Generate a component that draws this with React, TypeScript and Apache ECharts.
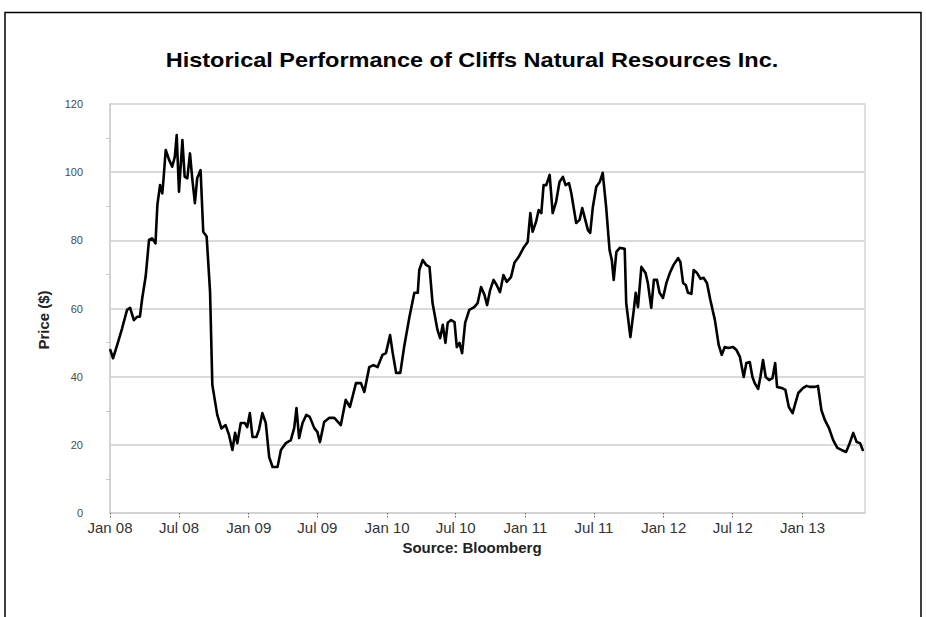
import React, { useEffect, useRef } from "react";
import * as echarts from "echarts";

const dates: string[] = [
  "2008-01-02","2008-01-09","2008-01-20","2008-02-02","2008-02-15","2008-02-23","2008-03-04","2008-03-13","2008-03-20","2008-03-26",
  "2008-04-04","2008-04-13","2008-04-21","2008-04-30","2008-05-05","2008-05-12","2008-05-18","2008-05-21","2008-05-27","2008-06-05",
  "2008-06-13","2008-06-20","2008-06-25","2008-07-01","2008-07-10","2008-07-16","2008-07-23","2008-07-30","2008-08-05","2008-08-12",
  "2008-08-18","2008-08-27","2008-09-03","2008-09-12","2008-09-21","2008-09-27","2008-10-10","2008-10-21","2008-11-01","2008-11-10",
  "2008-11-19","2008-11-26","2008-12-02","2008-12-11","2008-12-22","2008-12-28","2009-01-04","2009-01-11","2009-01-21","2009-01-28",
  "2009-02-06","2009-02-15","2009-02-24","2009-03-05","2009-03-18","2009-03-27","2009-04-09","2009-04-22","2009-05-01","2009-05-07",
  "2009-05-14","2009-05-23","2009-06-02","2009-06-11","2009-06-23","2009-07-01","2009-07-08","2009-07-19","2009-08-01","2009-08-15",
  "2009-09-01","2009-09-14","2009-09-25","2009-10-11","2009-10-24","2009-11-02","2009-11-15","2009-11-26","2009-12-07","2009-12-20",
  "2009-12-29","2010-01-09","2010-01-16","2010-01-25","2010-02-05","2010-02-15","2010-03-01","2010-03-14","2010-03-23","2010-03-27",
  "2010-04-05","2010-04-14","2010-04-23","2010-05-01","2010-05-14","2010-05-21","2010-05-28","2010-06-04","2010-06-10","2010-06-19",
  "2010-06-28","2010-07-04","2010-07-11","2010-07-18","2010-07-26","2010-08-06","2010-08-19","2010-08-28","2010-09-06","2010-09-15",
  "2010-09-22","2010-09-30","2010-10-09","2010-10-17","2010-10-26","2010-11-04","2010-11-13","2010-11-24","2010-12-03","2010-12-14",
  "2010-12-27","2011-01-07","2011-01-14","2011-01-20","2011-01-29","2011-02-05","2011-02-12","2011-02-18","2011-02-25","2011-03-06",
  "2011-03-14","2011-03-23","2011-04-01","2011-04-10","2011-04-17","2011-04-26","2011-05-02","2011-05-15","2011-05-24","2011-05-31",
  "2011-06-06","2011-06-15","2011-06-21","2011-06-28","2011-07-07","2011-07-16","2011-07-24","2011-08-02","2011-08-11","2011-08-17",
  "2011-08-22","2011-08-29","2011-09-07","2011-09-20","2011-09-24","2011-10-05","2011-10-14","2011-10-19","2011-10-25","2011-11-03",
  "2011-11-14","2011-11-20","2011-11-29","2011-12-06","2011-12-14","2011-12-21","2011-12-30","2012-01-08","2012-01-17","2012-01-27",
  "2012-02-08","2012-02-14","2012-02-21","2012-02-28","2012-03-05","2012-03-14","2012-03-20","2012-03-29","2012-04-07","2012-04-15",
  "2012-04-24","2012-05-03","2012-05-15","2012-05-25","2012-06-02","2012-06-10","2012-06-19","2012-07-02","2012-07-11","2012-07-20",
  "2012-07-30","2012-08-06","2012-08-15","2012-08-22","2012-08-28","2012-09-06","2012-09-12","2012-09-19","2012-09-26","2012-10-05",
  "2012-10-14","2012-10-21","2012-10-26","2012-11-07","2012-11-17","2012-11-26","2012-12-06","2012-12-12","2012-12-21","2013-01-03",
  "2013-01-12","2013-01-20","2013-02-03","2013-02-11","2013-02-20","2013-03-01","2013-03-12","2013-03-23","2013-04-03","2013-04-14",
  "2013-04-26","2013-05-04","2013-05-15","2013-05-24","2013-06-02","2013-06-09"
];

const prices: number[] = [
  47.8,45.4,49.3,54.2,59.6,60.2,56.6,57.6,57.6,63.0,
  69.3,80.1,80.6,79.1,90.4,96.2,93.8,97.7,106.5,103.6,
  101.6,104.5,110.9,94.3,109.4,98.7,98.2,105.5,98.2,90.9,
  98.2,100.6,82.5,81.1,64.9,37.6,28.8,24.8,25.8,22.9,
  18.5,23.5,20.5,26.4,26.4,25.2,29.3,22.3,22.3,24.4,
  29.3,26.4,16.4,13.5,13.5,18.5,20.5,21.4,24.9,30.8,
  22.0,26.4,28.8,28.2,24.9,23.8,20.8,26.7,27.9,27.9,
  25.8,33.2,31.1,38.1,38.1,35.5,42.8,43.4,42.8,46.4,
  46.9,52.2,46.9,41.1,41.1,48.7,57.5,64.6,64.6,71.3,
  74.2,72.8,72.2,61.6,53.7,51.3,55.2,49.9,55.8,56.6,
  56.0,48.7,49.9,46.9,55.8,59.6,60.4,61.6,66.3,64.0,
  61.0,65.4,68.4,66.9,64.8,69.8,67.8,69.2,73.4,75.1,
  77.8,79.5,88.0,82.5,85.4,88.9,88.0,96.2,96.2,99.2,
  88.0,91.3,97.1,98.6,96.2,96.8,93.9,85.1,86.0,89.5,
  86.9,83.0,82.2,89.8,95.7,97.1,99.8,89.8,77.2,74.2,
  68.4,76.6,77.8,77.5,61.6,51.6,59.6,64.6,60.4,72.2,
  70.4,67.5,60.2,68.4,68.4,64.6,63.1,67.5,70.4,72.8,
  74.8,73.6,67.5,66.9,64.6,64.3,71.3,70.4,68.7,69.0,
  67.5,62.5,56.6,49.3,46.4,48.7,48.4,48.7,47.8,45.8,
  39.9,44.0,44.3,39.9,38.1,36.4,39.9,44.9,39.9,39.0,
  39.6,44.0,37.0,36.7,36.1,31.1,29.3,31.7,35.2,36.7,
  37.3,37.0,37.0,37.3,30.2,27.3,24.9,21.4,19.1,18.5,
  17.9,20.0,23.5,20.8,20.5,18.5
];

const xTickDates: string[] = [
  "2008-01-01","2008-07-01","2009-01-01","2009-07-01","2010-01-01","2010-07-01",
  "2011-01-01","2011-07-01","2012-01-01","2012-07-01","2013-01-01"
];
const xTickLabels: string[] = [
  "Jan 08","Jul 08","Jan 09","Jul 09","Jan 10","Jul 10",
  "Jan 11","Jul 11","Jan 12","Jul 12","Jan 13"
];
const yTicks: number[] = [0, 20, 40, 60, 80, 100, 120];

const DAY = 86400000;
const T0 = Date.UTC(2008, 0, 1);
const X_END = "2013-06-15";
const toDays = (d: string) => (Date.parse(d) - T0) / DAY;

const FONT = "'Liberation Sans', Arial, Helvetica, sans-serif";

export default function App() {
  const ref = useRef<HTMLDivElement>(null);
  useEffect(() => {
    const chart = echarts.init(ref.current!, null, { renderer: "svg" });
    const data = dates.map((d, i) => [toDays(d), prices[i]]);
    const tickDays = xTickDates.map(toDays);
    chart.setOption({
      animation: false,
      backgroundColor: "#ffffff",
      textStyle: { fontFamily: FONT },
      grid: {
        left: 110,
        right: 61,
        top: 104,
        bottom: 104,
        show: true,
        borderColor: "#d4d4d4",
        borderWidth: 1.5,
        containLabel: false,
      },
      xAxis: {
        type: "value",
        min: 0,
        max: toDays(X_END),
        splitLine: { show: false },
        axisLine: { show: true, lineStyle: { color: "#cfcfcf", width: 1.5 } },
        axisTick: {
          show: true,
          customValues: tickDays,
          length: 6,
          lineStyle: { color: "#666", width: 1, type: [1.5, 1.5] },
        },
        axisLabel: {
          customValues: tickDays,
          formatter: (v: number) => {
            const idx = tickDays.findIndex((t) => Math.abs(t - v) < 0.5);
            return idx >= 0 ? xTickLabels[idx] : "";
          },
          color: "#333",
          fontSize: 15,
          margin: 7,
          fontFamily: FONT,
        },
      },
      yAxis: {
        type: "value",
        min: yTicks[0],
        max: yTicks[yTicks.length - 1],
        interval: 20,
        axisLine: { show: true, lineStyle: { color: "#cfcfcf", width: 1.5 } },
        axisTick: { show: false },
        minorTick: { show: true, splitNumber: 2, length: 4, lineStyle: { color: "#c8c8c8" } },
        splitLine: { show: true, lineStyle: { color: "#dadada", width: 2 } },
        axisLabel: { color: "#4a4a4a", fontSize: 11, margin: 27, fontFamily: FONT },
      },
      series: [
        {
          type: "line",
          data,
          showSymbol: false,
          symbol: "none",
          lineStyle: { color: "#000", width: 2.6, join: "round", cap: "round" },
        },
      ],
      graphic: [
        {
          type: "polyline",
          shape: { points: [[5, 617], [5, 12.5], [921, 12.5], [921, 617]] },
          style: { stroke: "#000", lineWidth: 1.5, fill: "none" },
          silent: true,
        },
        {
          type: "text",
          x: 472,
          y: 60,
          scaleX: 1.12,
          style: {
            text: "Historical Performance of Cliffs Natural Resources Inc.",
            font: `bold 21px ${FONT}`,
            fill: "#000",
            align: "center",
            verticalAlign: "middle",
          },
        },
        {
          type: "text",
          x: 472,
          y: 547,
          style: {
            text: "Source: Bloomberg",
            font: `bold 15px ${FONT}`,
            fill: "#222",
            align: "center",
            verticalAlign: "middle",
          },
        },
        {
          type: "text",
          x: 43,
          y: 320,
          rotation: Math.PI / 2,
          style: {
            text: "Price ($)",
            font: `bold 15px ${FONT}`,
            fill: "#222",
            align: "center",
            verticalAlign: "middle",
          },
        },
      ],
    });
    return () => chart.dispose();
  }, []);
  return (
    <div
      ref={ref}
      style={{ position: "absolute", left: 0, top: 0, width: 926, height: 617, background: "#fff" }}
    />
  );
}
